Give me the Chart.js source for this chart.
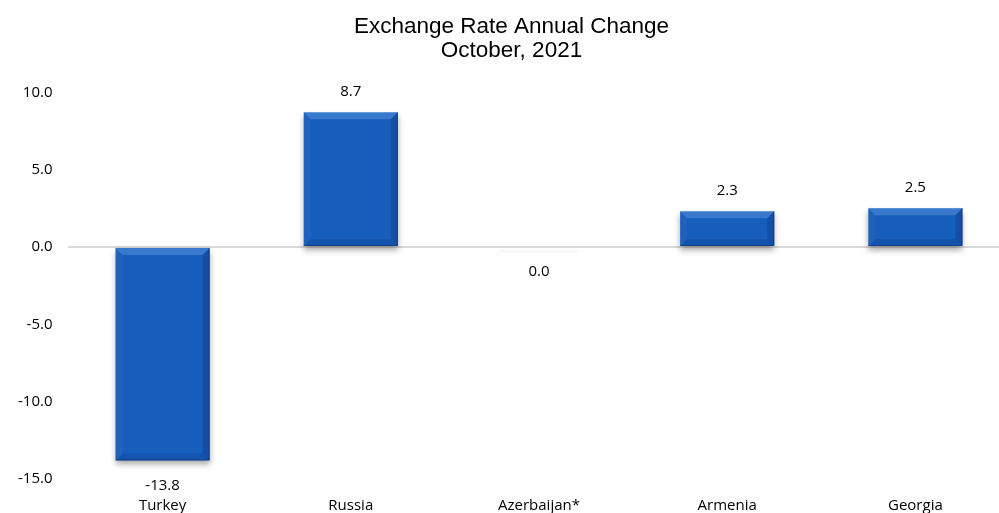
<!DOCTYPE html>
<html><head><meta charset="utf-8">
<script src="https://cdn.jsdelivr.net/npm/chart.js@4"></script>
<style>html,body{margin:0;padding:0;background:#fff}#wrap{width:999px;height:513px}</style>
</head><body><div id="wrap"><canvas id="c"></canvas></div>
<script>
const categories = ["Turkey","Russia","Azerbaijan*","Armenia","Georgia"];
const values = [-13.8, 8.7, 0.0, 2.3, 2.5];
const titleLines = ["Exchange Rate Annual Change","October, 2021"];
const yTicks = [-15, -10, -5, 0, 5, 10];

const FONT = "'Open Sans', sans-serif";
const PLOT_WIDTH = 941; // plot area extends slightly past the right edge, as in the reference

const areaPlugin = {
  id: 'area',
  afterLayout(chart) {
    const a = chart.chartArea;
    const r = a.left + PLOT_WIDTH;
    a.right = r; a.width = r - a.left;
    const xs = chart.scales.x;
    xs.right = r; xs.width = r - xs.left;
    xs.configure();
  }
};

const bevelPlugin = {
  id: 'bevel',
  beforeDatasetsDraw(chart) {
    const ctx = chart.ctx;
    const meta = chart.getDatasetMeta(0);
    ctx.save();
    meta.data.forEach(b => {
      const x0 = b.x - b.width/2;
      const top = Math.min(b.y, b.base), bot = Math.max(b.y, b.base);
      if (bot - top < 1) {
        ctx.fillStyle = 'rgba(0,0,0,0.03)';
        ctx.fillRect(x0+8, bot+3, b.width-16, 3);
        return;
      }
      ctx.shadowColor = 'rgba(0,0,0,0.35)';
      ctx.shadowBlur = 6;
      ctx.shadowOffsetY = 4;
      ctx.fillStyle = '#175dbb';
      ctx.fillRect(x0, top, b.width, bot-top);
    });
    ctx.restore();
  },
  afterDatasetsDraw(chart) {
    const ctx = chart.ctx;
    const meta = chart.getDatasetMeta(0);
    ctx.save();
    meta.data.forEach(b => {
      const x0 = b.x - b.width/2, x1 = b.x + b.width/2;
      const top = Math.min(b.y, b.base), bot = Math.max(b.y, b.base);
      if (bot - top < 1) return;
      const e = Math.min(7, (bot-top)/2);
      ctx.fillStyle = 'rgba(120,175,240,0.35)';
      ctx.beginPath(); ctx.moveTo(x0,top); ctx.lineTo(x1,top); ctx.lineTo(x1-e,top+e); ctx.lineTo(x0+e,top+e); ctx.closePath(); ctx.fill();
      ctx.fillStyle = 'rgba(90,140,215,0.12)';
      ctx.beginPath(); ctx.moveTo(x0,top); ctx.lineTo(x0+e,top+e); ctx.lineTo(x0+e,bot-e); ctx.lineTo(x0,bot); ctx.closePath(); ctx.fill();
      ctx.fillStyle = 'rgba(10,40,95,0.25)';
      ctx.beginPath(); ctx.moveTo(x1,top); ctx.lineTo(x1-e,top+e); ctx.lineTo(x1-e,bot-e); ctx.lineTo(x1,bot); ctx.closePath(); ctx.fill();
      ctx.fillStyle = 'rgba(10,40,95,0.16)';
      ctx.beginPath(); ctx.moveTo(x0,bot); ctx.lineTo(x0+e,bot-e); ctx.lineTo(x1-e,bot-e); ctx.lineTo(x1,bot); ctx.closePath(); ctx.fill();
      ctx.strokeStyle = 'rgba(10,40,95,0.5)';
      ctx.lineWidth = 1;
      ctx.beginPath(); ctx.moveTo(x1-0.5, top); ctx.lineTo(x1-0.5, bot-0.5); ctx.lineTo(x0, bot-0.5); ctx.stroke();
    });
    ctx.fillStyle = '#000';
    ctx.font = "15px " + FONT;
    ctx.textAlign = 'center';
    ctx.textBaseline = 'middle';
    meta.data.forEach((b, i) => {
      const v = values[i];
      if (v > 0) ctx.fillText(v.toFixed(1), b.x, b.y - 21);
      else ctx.fillText(v.toFixed(1), b.x, Math.max(b.y, b.base) + 25);
    });
    ctx.restore();
  }
};

new Chart(document.getElementById('c'), {
  type: 'bar',
  data: {
    labels: categories,
    datasets: [{
      data: values,
      backgroundColor: 'rgba(0,0,0,0)',
      borderWidth: 0,
      categoryPercentage: 1.0,
      barPercentage: 0.5
    }]
  },
  options: {
    responsive: true,
    maintainAspectRatio: false,
    animation: false,
    layout: { autoPadding: false, padding: { left: 2, right: -22, top: 0, bottom: -20 } },
    plugins: {
      legend: { display: false },
      tooltip: { enabled: false },
      title: {
        display: true,
        text: titleLines,
        color: '#000',
        font: { family: "'Liberation Sans', Arial, sans-serif", size: 22.5, weight: 'normal', lineHeight: 1.05 },
        padding: { top: 15, bottom: 30 }
      }
    },
    scales: {
      x: {
        grid: { display: false, drawTicks: false },
        border: { display: false },
        ticks: { color: '#000', font: { family: FONT, size: 15, lineHeight: 1.2 }, padding: 18 }
      },
      y: {
        min: -15, max: 10,
        afterBuildTicks(axis) { axis.ticks = yTicks.map(v => ({ value: v })); },
        grid: {
          drawTicks: false,
          color: ctx => (ctx.tick && ctx.tick.value === 0) ? '#d9d9d9' : 'rgba(0,0,0,0)',
          lineWidth: 2
        },
        border: { display: false },
        ticks: { color: '#000', font: { family: FONT, size: 15 }, padding: 16, callback: v => Number(v).toFixed(1) }
      }
    }
  },
  plugins: [areaPlugin, bevelPlugin]
});
</script></body></html>
